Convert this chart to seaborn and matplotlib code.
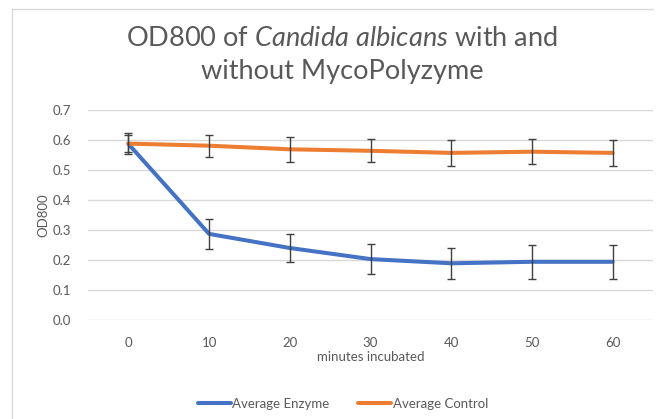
import matplotlib
matplotlib.use("Agg")
import matplotlib.pyplot as plt
import seaborn as sns
import pandas as pd
from matplotlib.lines import Line2D

minutes = ["0", "10", "20", "30", "40", "50", "60"]
enzyme = [0.587, 0.287, 0.240, 0.203, 0.189, 0.194, 0.194]
enzyme_err = [0.028, 0.050, 0.045, 0.051, 0.051, 0.056, 0.057]
control = [0.588, 0.581, 0.569, 0.564, 0.557, 0.561, 0.557]
control_err = [0.034, 0.037, 0.042, 0.038, 0.043, 0.042, 0.043]
yticks = [0.0, 0.1, 0.2, 0.3, 0.4, 0.5, 0.6, 0.7]

sns.set_theme(style="white")
plt.rcParams['font.family'] = ['Lato', 'DejaVu Sans']
plt.rcParams['mathtext.fontset'] = 'custom'
plt.rcParams['mathtext.it'] = 'Lato:italic'
plt.rcParams['mathtext.rm'] = 'Lato'

BLUE = "#4472C4"
ORANGE = "#ED7D31"
GRAY = "#595959"

fig = plt.figure(figsize=(6.58, 4.19), dpi=100)
ax = fig.add_axes([88/658, 99/419, 565/658, 210/419])

pos = list(range(len(minutes)))
df = pd.DataFrame({"pos": pos * 2,
                   "od": enzyme + control,
                   "series": ["Average Enzyme"] * 7 + ["Average Control"] * 7})

sns.lineplot(data=df, x="pos", y="od", hue="series",
             palette={"Average Enzyme": BLUE, "Average Control": ORANGE},
             linewidth=2.9, ax=ax, legend=False, zorder=3)

ax.errorbar(pos, enzyme, yerr=enzyme_err, fmt="none", ecolor="#404040",
            elinewidth=1.0, capsize=2.6, capthick=1.0, zorder=4)
ax.errorbar(pos, control, yerr=control_err, fmt="none", ecolor="#404040",
            elinewidth=1.0, capsize=2.6, capthick=1.0, zorder=4)

ax.set_xlim(-0.5, 6.5)
ax.set_ylim(0, 0.7)
ax.set_xticks(pos)
ax.set_xticklabels(minutes)
ax.set_yticks(yticks)
ax.set_yticklabels([f"{v:.1f}" for v in yticks])
ax.tick_params(axis="both", length=0, labelsize=9.5, labelcolor=GRAY)
ax.tick_params(axis="y", pad=12)
ax.tick_params(axis="x", pad=12)
ax.grid(axis="y", color="#D9D9D9", linewidth=1.0)
ax.grid(axis="x", visible=False)
ax.set_axisbelow(True)
for s in ax.spines.values():
    s.set_visible(False)

ax.set_xlabel("minutes incubated", fontsize=9.5, color=GRAY, labelpad=2)
ax.set_ylabel("")
fig.text(43/658, (419-215)/419, "OD800", rotation=90, ha="center",
         va="center", fontsize=9.5, color=GRAY)

fig.text(342/658, (419-39)/419,
         r"OD800 of $Candida\ albicans$ with and",
         ha="center", va="center", fontsize=19.5, color=GRAY)
fig.text(342/658, (419-72)/419, "without MycoPolyzyme",
         ha="center", va="center", fontsize=19.5, color=GRAY)

handles = [Line2D([0], [0], color=BLUE, lw=2.9),
           Line2D([0], [0], color=ORANGE, lw=2.9)]
fig.legend(handles, ["Average Enzyme", "Average Control"],
           loc="center", bbox_to_anchor=(343/658, (419-404)/419), ncol=2,
           frameon=False, fontsize=9.5, labelcolor=GRAY, handlelength=2.5,
           handletextpad=0.1, columnspacing=2.2)

# chart border (left and top visible)
fig.add_artist(Line2D([12/658, 12/658], [0, (419-9)/419], color="#D9D9D9",
                      lw=1.0, transform=fig.transFigure))
fig.add_artist(Line2D([12/658, 653/658], [(419-9)/419, (419-9)/419],
                      color="#D9D9D9", lw=1.0, transform=fig.transFigure))

fig.savefig("out.png", dpi=100)
